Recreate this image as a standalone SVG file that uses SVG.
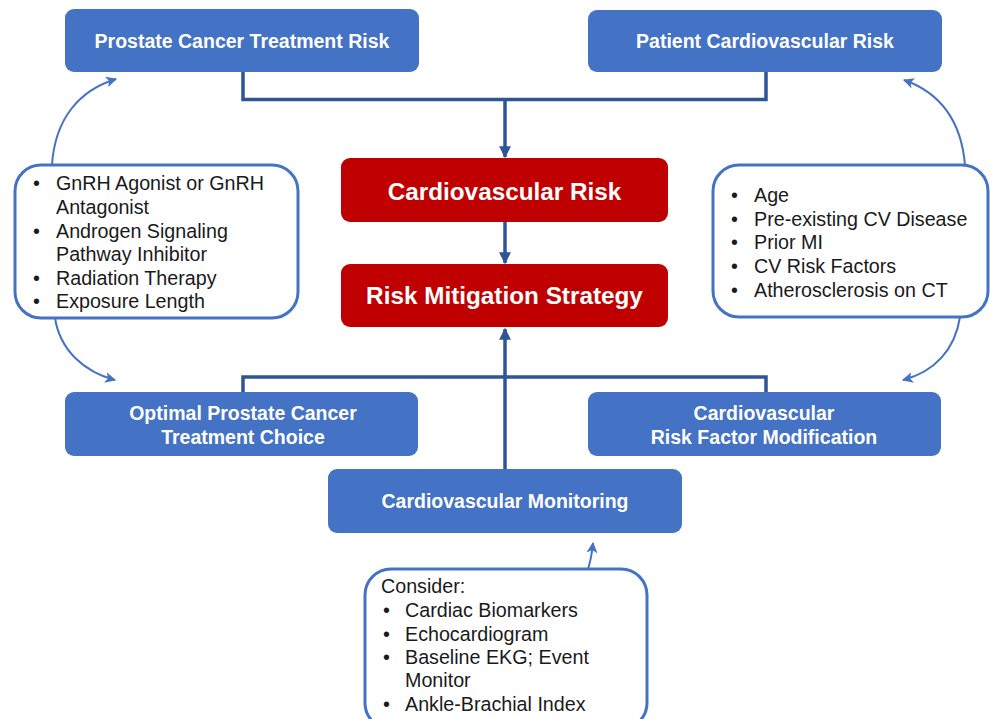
<svg xmlns="http://www.w3.org/2000/svg" width="990" height="719" viewBox="0 0 990 719">
<defs>
<marker id="ah" viewBox="0 0 10 10" refX="9" refY="5" markerWidth="3.4" markerHeight="3.4" orient="auto" markerUnits="strokeWidth"><path d="M0,0 L10,5 L0,10 z" fill="#2F5597"/></marker>
<marker id="ah2" viewBox="0 0 10 10" refX="9" refY="5" markerWidth="5.5" markerHeight="5.5" orient="auto" markerUnits="strokeWidth"><path d="M0,0 L10,5 L0,10 L2.5,5 z" fill="#4472C4"/></marker>
<style>
.bx{fill:#4472C4}
.rd{fill:#C00000}
.bt{fill:#fff;font-family:"Liberation Sans",Arial,sans-serif;font-weight:bold;font-size:19.5px;text-anchor:middle}
.rt{fill:#fff;font-family:"Liberation Sans",Arial,sans-serif;font-weight:bold;font-size:24.3px;text-anchor:middle}
.lb{fill:#fff;stroke:#4472C4;stroke-width:3}
.lt{fill:#1a1a1a;font-family:"Liberation Sans",Arial,sans-serif;font-size:19.7px}
.cn{fill:none;stroke:#2F5597;stroke-width:3.5}
.cv{fill:none;stroke:#4472C4;stroke-width:2}
</style>
</defs>
<rect width="990" height="719" fill="#fff"/>
<g id="connectors">
<polyline class="cn" points="243,72 243,99.5 766,99.5 766,72"/>
<line class="cn" x1="505" y1="99.5" x2="505" y2="157" marker-end="url(#ah)"/>
<line class="cn" x1="505" y1="222" x2="505" y2="263" marker-end="url(#ah)"/>
<polyline class="cn" points="243,392 243,377 766,377 766,392"/>
<line class="cn" x1="505" y1="469" x2="505" y2="329" marker-end="url(#ah)"/>
<path class="cv" d="M52,165 C55,118 80,90 116,79" marker-end="url(#ah2)"/>
<path class="cv" d="M55,318 C60,350 84,372 115,380" marker-end="url(#ah2)"/>
<path class="cv" d="M965,165 C961,118 938,92 904,80" marker-end="url(#ah2)"/>
<path class="cv" d="M960,317 C955,350 934,372 903,380" marker-end="url(#ah2)"/>
<path class="cv" d="M588,569 C591,560 592,553 593,543" marker-end="url(#ah2)"/>
</g>
<g id="prostate-risk">
<rect class="bx" x="65" y="9" width="354" height="63" rx="9"/>
<text class="bt" x="242" y="48">Prostate Cancer Treatment Risk</text>
</g>
<g id="patient-risk">
<rect class="bx" x="588" y="10" width="354" height="62" rx="9"/>
<text class="bt" x="765" y="48">Patient Cardiovascular Risk</text>
</g>
<g id="cv-risk">
<rect class="rd" x="341" y="158" width="327" height="64" rx="9"/>
<text class="rt" x="504.5" y="199.5">Cardiovascular Risk</text>
</g>
<g id="mitigation">
<rect class="rd" x="341" y="264" width="327" height="63" rx="9"/>
<text class="rt" x="504.5" y="304">Risk Mitigation Strategy</text>
</g>
<g id="left-list">
<rect class="lb" x="15" y="165" width="283" height="153" rx="26"/>
<text class="lt"><tspan x="33" y="190">•</tspan><tspan x="56" y="190">GnRH Agonist or GnRH</tspan><tspan x="56" y="214">Antagonist</tspan><tspan x="33" y="237.5">•</tspan><tspan x="56" y="237.5">Androgen Signaling</tspan><tspan x="56" y="261">Pathway Inhibitor</tspan><tspan x="33" y="284.5">•</tspan><tspan x="56" y="284.5">Radiation Therapy</tspan><tspan x="33" y="308">•</tspan><tspan x="56" y="308">Exposure Length</tspan></text>
</g>
<g id="right-list">
<rect class="lb" x="713" y="165" width="275" height="152" rx="26"/>
<text class="lt"><tspan x="731" y="201.5">•</tspan><tspan x="754" y="201.5">Age</tspan><tspan x="731" y="225.5">•</tspan><tspan x="754" y="225.5">Pre-existing CV Disease</tspan><tspan x="731" y="249">•</tspan><tspan x="754" y="249">Prior MI</tspan><tspan x="731" y="273">•</tspan><tspan x="754" y="273">CV Risk Factors</tspan><tspan x="731" y="296.5">•</tspan><tspan x="754" y="296.5">Atherosclerosis on CT</tspan></text>
</g>
<g id="treatment-choice">
<rect class="bx" x="65" y="392" width="353" height="64" rx="9"/>
<text class="bt" x="243" y="420">Optimal Prostate Cancer</text>
<text class="bt" x="243" y="444">Treatment Choice</text>
</g>
<g id="rf-modification">
<rect class="bx" x="588" y="392" width="353" height="64" rx="9"/>
<text class="bt" x="764" y="420">Cardiovascular</text>
<text class="bt" x="764" y="444">Risk Factor Modification</text>
</g>
<g id="monitoring">
<rect class="bx" x="328" y="469" width="354" height="64" rx="9"/>
<text class="bt" x="505" y="508">Cardiovascular Monitoring</text>
</g>
<g id="bottom-list">
<rect class="lb" x="365" y="569" width="282" height="160" rx="26"/>
<text class="lt"><tspan x="381" y="593">Consider:</tspan><tspan x="383" y="617">•</tspan><tspan x="405" y="617">Cardiac Biomarkers</tspan><tspan x="383" y="640.5">•</tspan><tspan x="405" y="640.5">Echocardiogram</tspan><tspan x="383" y="664">•</tspan><tspan x="405" y="664">Baseline EKG; Event</tspan><tspan x="405" y="687">Monitor</tspan><tspan x="383" y="710.5">•</tspan><tspan x="405" y="710.5">Ankle-Brachial Index</tspan></text>
</g>
</svg>
